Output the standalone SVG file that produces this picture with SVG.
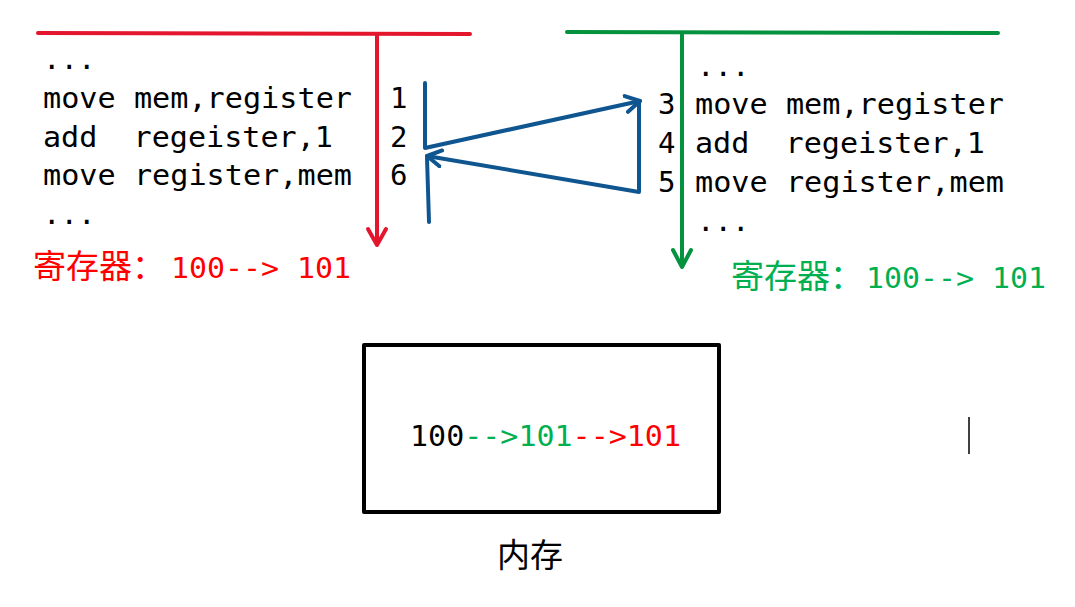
<svg xmlns="http://www.w3.org/2000/svg" width="1075" height="607" viewBox="0 0 1075 607">
<style>
.code{font-family:"DejaVu Sans Mono","Liberation Mono",monospace;font-size:29px;fill:#000;white-space:pre}
.cjk{font-family:"Noto Sans CJK SC","Microsoft YaHei",sans-serif;font-size:33px}
.red{fill:#FF0000}
.green{fill:#00B050}
.rl{stroke:#E3162D;stroke-width:4;fill:none;stroke-linecap:round;stroke-linejoin:round}
.gl{stroke:#05923E;stroke-width:4;fill:none;stroke-linecap:round;stroke-linejoin:round}
.bl{stroke:#0F5690;stroke-width:4;fill:none;stroke-linecap:round;stroke-linejoin:round}
</style>
<defs>
<marker id="ab" viewBox="-16 -10 20 20" markerWidth="20" markerHeight="20" refX="0" refY="0" orient="auto" markerUnits="userSpaceOnUse">
<path d="M-14,-8 L0,0 L-14,8" fill="none" stroke="#0F5690" stroke-width="4" stroke-linecap="round" stroke-linejoin="round"/>
</marker>
</defs>
<rect width="1075" height="607" fill="#fff"/>
<g id="thread1">
<path class="rl" d="M38,33 L470,34"/>
<path class="rl" d="M377,35 L377,245 M368,229 L377,245 L386,229"/>
<text class="code" x="43" y="69">...</text>
<text class="code" x="43" y="108" textLength="309" lengthAdjust="spacingAndGlyphs">move mem,register</text>
<text class="code" x="43" y="147" xml:space="preserve" textLength="290" lengthAdjust="spacingAndGlyphs">add  regeister,1</text>
<text class="code" x="43" y="185" textLength="309" lengthAdjust="spacingAndGlyphs">move register,mem</text>
<text class="code" x="43" y="224">...</text>
<text class="code" x="390" y="108">1</text>
<text class="code" x="390" y="147">2</text>
<text class="code" x="390" y="185">6</text>
<text x="33" y="278"><tspan class="cjk red">寄存器：</tspan><tspan class="code red" x="171" textLength="180" lengthAdjust="spacingAndGlyphs">100--&gt; 101</tspan></text>
</g>
<g id="thread2">
<path class="gl" d="M567,32 L998,33"/>
<path class="gl" d="M682,34 L682,267 M673,250 L682,267 L691,250"/>
<text class="code" x="697" y="76">...</text>
<text class="code" x="658" y="114">3</text>
<text class="code" x="658" y="153">4</text>
<text class="code" x="658" y="192">5</text>
<text class="code" x="695" y="114" textLength="309" lengthAdjust="spacingAndGlyphs">move mem,register</text>
<text class="code" x="695" y="153" xml:space="preserve" textLength="290" lengthAdjust="spacingAndGlyphs">add  regeister,1</text>
<text class="code" x="695" y="192" textLength="309" lengthAdjust="spacingAndGlyphs">move register,mem</text>
<text class="code" x="697" y="231">...</text>
<text x="731" y="288"><tspan class="cjk green">寄存器：</tspan><tspan class="code green" x="866" textLength="180" lengthAdjust="spacingAndGlyphs">100--&gt; 101</tspan></text>
</g>
<g id="memory">
<rect x="364" y="345" width="355" height="167" fill="none" stroke="#000" stroke-width="4" stroke-linejoin="round"/>
<text class="code" x="410" y="446" textLength="271" lengthAdjust="spacingAndGlyphs"><tspan>100</tspan><tspan class="green">--&gt;101</tspan><tspan class="red">--&gt;101</tspan></text>
<text class="cjk" x="497" y="567" style="font-size:33px">内存</text>
</g>
<g id="connectors">
<path class="bl" d="M425,83 L425,148 L640,101" marker-end="url(#ab)"/>
<path class="bl" d="M639,102 L639,192 L427,156" marker-end="url(#ab)"/>
<path class="bl" d="M427,158 L429,222"/>
</g>
<g id="cursor">
<path d="M969,417 L969,454" stroke="#000" stroke-width="1.5"/>
</g>
</svg>
